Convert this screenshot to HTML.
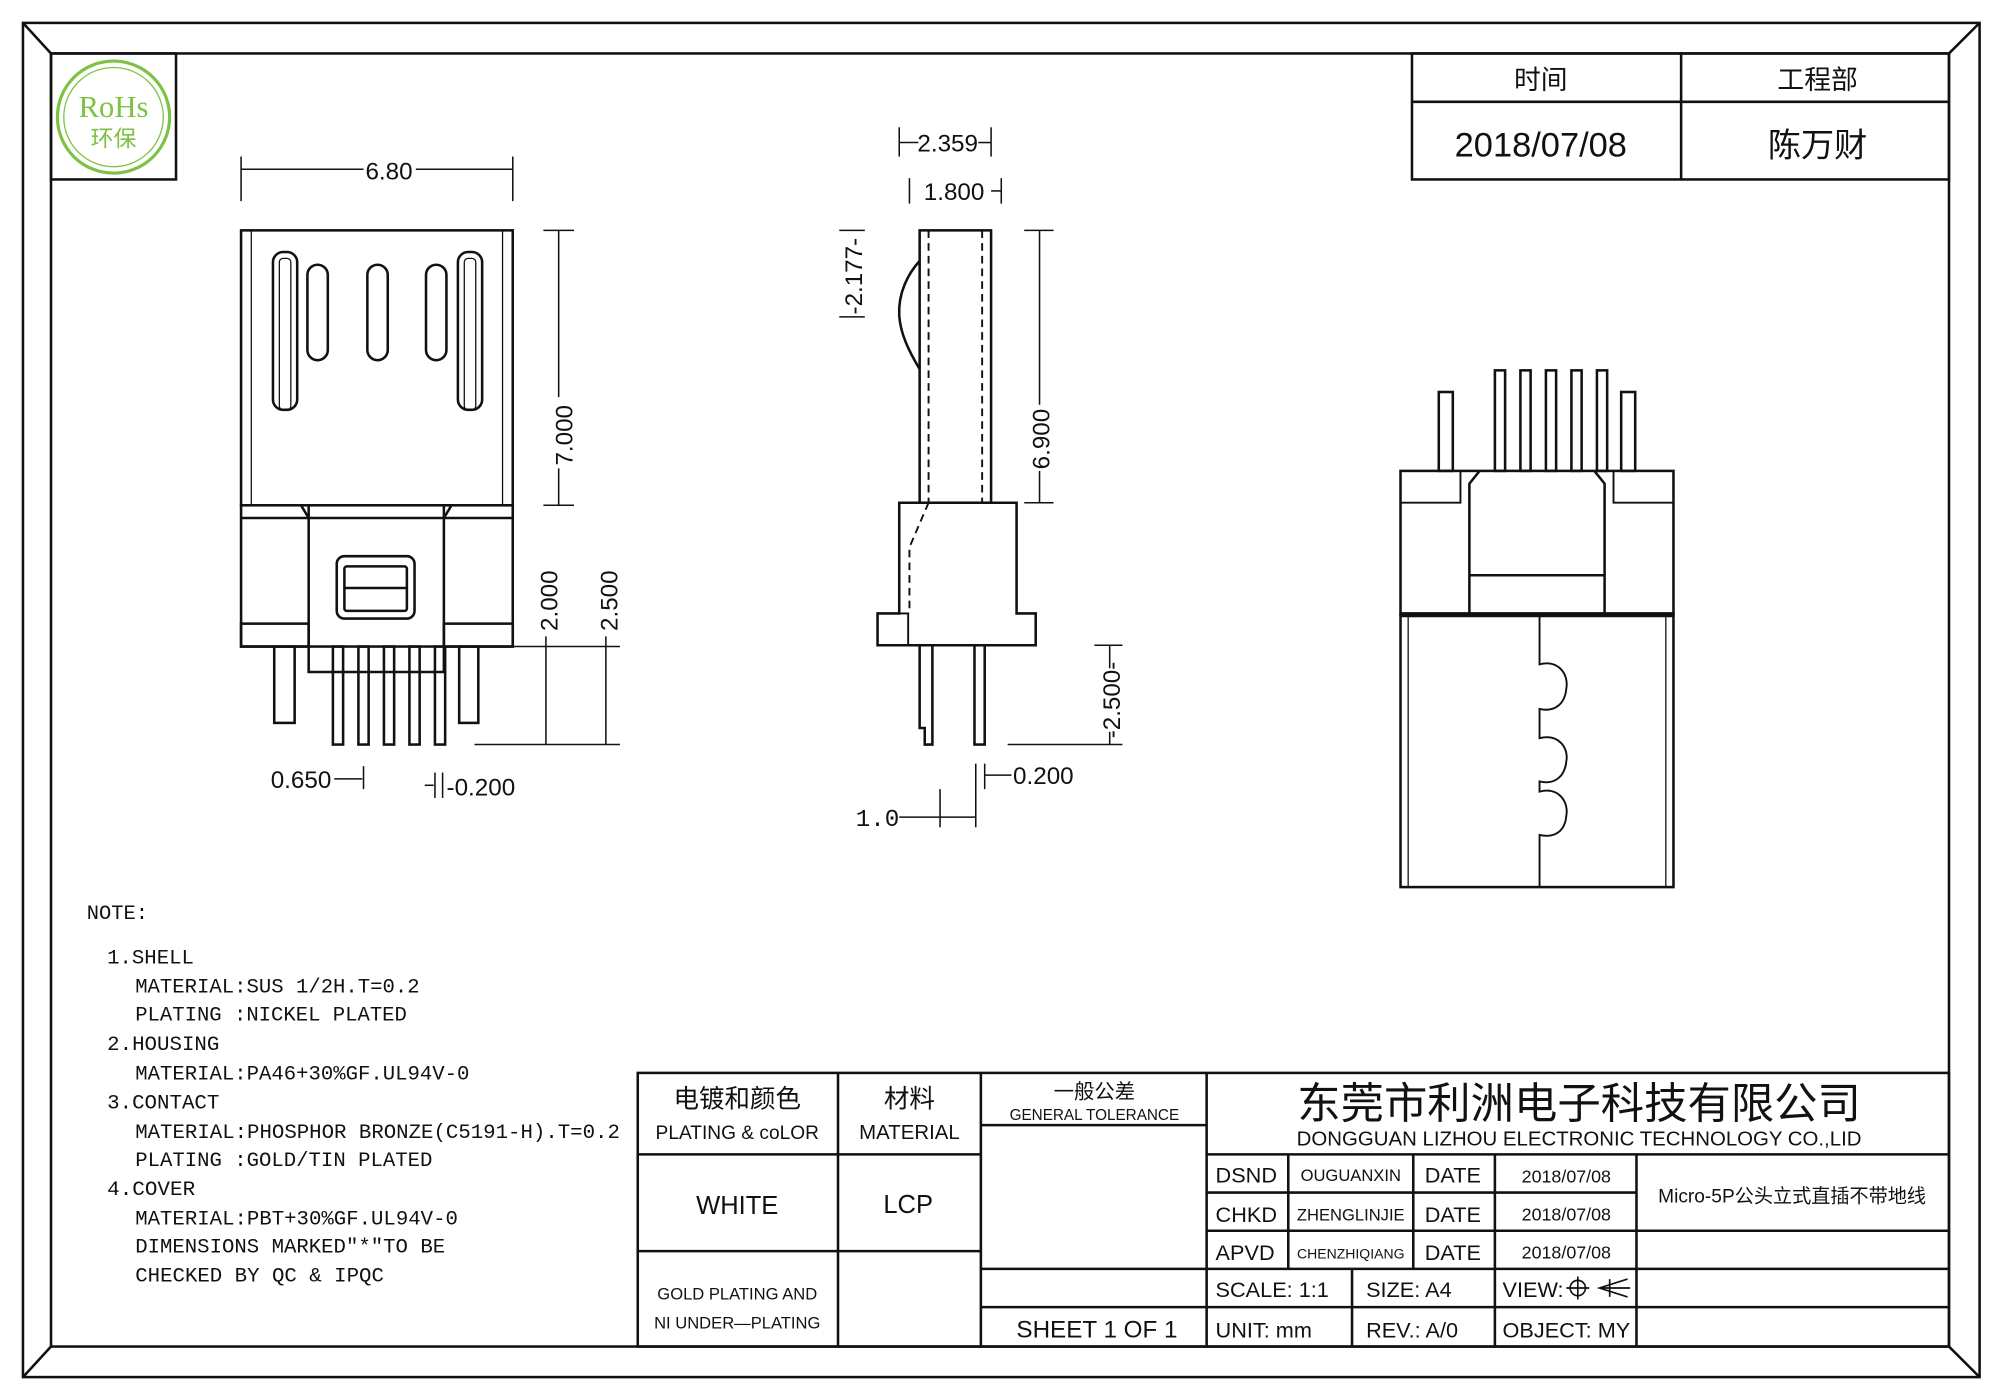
<!DOCTYPE html>
<html><head><meta charset="utf-8"><style>
html,body{margin:0;padding:0;background:#fff;}
svg{display:block;}
text{font-family:"Liberation Sans","Noto Sans CJK SC",sans-serif;fill:#111;}
.m{font-family:"Liberation Mono","Noto Serif CJK SC",monospace;font-size:16px;}
</style></head><body>
<svg width="2000" height="1400" viewBox="0 0 1568 1100" preserveAspectRatio="none" xmlns="http://www.w3.org/2000/svg">
<g fill="none" stroke="#111" stroke-width="2">
<rect x="18" y="18" width="1534" height="1064"/>
<rect x="40" y="42" width="1488" height="1016"/>
<line x1="18" y1="18" x2="40" y2="42"/><line x1="1552" y1="18" x2="1528" y2="42"/>
<line x1="18" y1="1082" x2="40" y2="1058"/><line x1="1552" y1="1082" x2="1528" y2="1058"/>
<rect x="40" y="42" width="98" height="99"/>
<rect x="1107" y="42" width="421" height="99"/>
<line x1="1107" y1="80" x2="1528" y2="80"/><line x1="1318" y1="42" x2="1318" y2="141"/>
<rect x="500" y="843" width="1028" height="215"/>
<line x1="657" y1="843" x2="657" y2="1058"/>
<line x1="769" y1="843" x2="769" y2="1058"/>
<line x1="946" y1="843" x2="946" y2="1058"/>
<line x1="500" y1="907" x2="769" y2="907"/>
<line x1="500" y1="983" x2="769" y2="983"/>
<line x1="769" y1="884" x2="946" y2="884"/>
<line x1="769" y1="997" x2="1528" y2="997"/>
<line x1="769" y1="1027" x2="1528" y2="1027"/>
<line x1="946" y1="907" x2="1528" y2="907"/>
<line x1="946" y1="937" x2="1283" y2="937"/>
<line x1="946" y1="967" x2="1528" y2="967"/>
<line x1="1010" y1="907" x2="1010" y2="997"/>
<line x1="1108" y1="907" x2="1108" y2="997"/>
<line x1="1172" y1="907" x2="1172" y2="1058"/>
<line x1="1283" y1="907" x2="1283" y2="1058"/>
<line x1="1060" y1="997" x2="1060" y2="1058"/>
</g>
<circle cx="89" cy="92" r="44" fill="none" stroke="#7dc242" stroke-width="2.5"/>
<circle cx="89" cy="92" r="39" fill="none" stroke="#7dc242" stroke-width="1"/>
<text x="89" y="92" text-anchor="middle" font-size="24" style="fill:#7dc242;font-family:'Liberation Serif',serif">RoHs</text>
<text x="89" y="115" text-anchor="middle" font-size="18" style="fill:#7dc242">环保</text>

<text x="1208" y="70" text-anchor="middle" font-size="21">时间</text>
<text x="1425" y="70" text-anchor="middle" font-size="21">工程部</text>
<text x="1208" y="123" text-anchor="middle" font-size="27">2018/07/08</text>
<text x="1425" y="123" text-anchor="middle" font-size="26">陈万财</text>

<text x="578" y="870" text-anchor="middle" font-size="20">电镀和颜色</text>
<text x="578" y="895" text-anchor="middle" font-size="15">PLATING &amp; coLOR</text>
<text x="713" y="870" text-anchor="middle" font-size="20">材料</text>
<text x="713" y="895" text-anchor="middle" font-size="16">MATERIAL</text>
<text x="858" y="863" text-anchor="middle" font-size="16">一般公差</text>
<text x="858" y="880" text-anchor="middle" font-size="12">GENERAL TOLERANCE</text>
<text x="578" y="954" text-anchor="middle" font-size="20">WHITE</text>
<text x="712" y="953" text-anchor="middle" font-size="20">LCP</text>
<text x="578" y="1021" text-anchor="middle" font-size="13">GOLD PLATING AND</text>
<text x="578" y="1044" text-anchor="middle" font-size="13">NI UNDER—PLATING</text>
<text x="860" y="1051" text-anchor="middle" font-size="19">SHEET 1 OF 1</text>
<text x="1238" y="879" text-anchor="middle" font-size="34">东莞市利洲电子科技有限公司</text>
<text x="1238" y="900" text-anchor="middle" font-size="16">DONGGUAN LIZHOU ELECTRONIC TECHNOLOGY CO.,LID</text>
<g font-size="17">
<text x="953" y="929">DSND</text><text x="953" y="960">CHKD</text><text x="953" y="990">APVD</text>
<text x="1117" y="929">DATE</text><text x="1117" y="960">DATE</text><text x="1117" y="990">DATE</text>
<text x="953" y="1019">SCALE:  1:1</text><text x="1071" y="1019">SIZE:  A4</text><text x="1178" y="1019">VIEW:</text>
<text x="953" y="1051">UNIT:  mm</text><text x="1071" y="1051">REV.:  A/0</text><text x="1178" y="1051">OBJECT:  MY</text>
</g>
<text x="1059" y="928" text-anchor="middle" font-size="13">OUGUANXIN</text>
<text x="1059" y="959" text-anchor="middle" font-size="13">ZHENGLINJIE</text>
<text x="1059" y="989" text-anchor="middle" font-size="11">CHENZHIQIANG</text>
<g font-size="14"><text x="1228" y="929" text-anchor="middle">2018/07/08</text><text x="1228" y="959" text-anchor="middle">2018/07/08</text><text x="1228" y="989" text-anchor="middle">2018/07/08</text></g>
<text x="1405" y="945" text-anchor="middle" font-size="15">Micro-5P公头立式直插不带地线</text>
<g fill="none" stroke="#111" stroke-width="1.3">
<circle cx="1237" cy="1012" r="6"/><line x1="1228" y1="1012" x2="1246" y2="1012"/><line x1="1237" y1="1003" x2="1237" y2="1021"/>
<path d="M1276 1005 L1254 1012 L1276 1019 M1262 1005 L1262 1019 M1254 1012 L1278 1012"/>
</g>

<g>
<text x="68" y="722" class="m" textLength="48" lengthAdjust="spacingAndGlyphs">NOTE:</text>
<text x="84" y="757" class="m" textLength="68" lengthAdjust="spacingAndGlyphs">1.SHELL</text>
<text x="106" y="780" class="m" textLength="223" lengthAdjust="spacingAndGlyphs">MATERIAL:SUS 1/2H.T=0.2</text>
<text x="106" y="802" class="m" textLength="213" lengthAdjust="spacingAndGlyphs">PLATING :NICKEL PLATED</text>
<text x="84" y="825" class="m" textLength="88" lengthAdjust="spacingAndGlyphs">2.HOUSING</text>
<text x="106" y="848" class="m" textLength="262" lengthAdjust="spacingAndGlyphs">MATERIAL:PA46+30%GF.UL94V-0</text>
<text x="84" y="871" class="m" textLength="88" lengthAdjust="spacingAndGlyphs">3.CONTACT</text>
<text x="106" y="894" class="m" textLength="380" lengthAdjust="spacingAndGlyphs">MATERIAL:PHOSPHOR BRONZE(C5191-H).T=0.2</text>
<text x="106" y="916" class="m" textLength="233" lengthAdjust="spacingAndGlyphs">PLATING :GOLD/TIN PLATED</text>
<text x="84" y="939" class="m" textLength="69" lengthAdjust="spacingAndGlyphs">4.COVER</text>
<text x="106" y="962" class="m" textLength="253" lengthAdjust="spacingAndGlyphs">MATERIAL:PBT+30%GF.UL94V-0</text>
<text x="106" y="984" class="m" textLength="243" lengthAdjust="spacingAndGlyphs">DIMENSIONS MARKED"*"TO BE</text>
<text x="106" y="1007" class="m" textLength="195" lengthAdjust="spacingAndGlyphs">CHECKED BY QC &amp; IPQC</text>
</g>

<g fill="none" stroke="#111" stroke-width="2">
<rect x="189" y="181" width="213" height="216"/>
<line x1="197" y1="181" x2="197" y2="397" stroke-width="1"/><line x1="394" y1="181" x2="394" y2="397" stroke-width="1"/>
<rect x="214" y="198" width="19" height="124" rx="8"/><rect x="219" y="203" width="9" height="119" rx="3" stroke-width="1"/>
<rect x="241" y="208" width="16" height="75" rx="8"/>
<rect x="288" y="208" width="16" height="75" rx="8"/>
<rect x="334" y="208" width="16" height="75" rx="8"/>
<rect x="359" y="198" width="19" height="124" rx="8"/><rect x="364" y="203" width="9" height="119" rx="3" stroke-width="1"/>
<rect x="189" y="397" width="213" height="111"/>
<line x1="189" y1="407" x2="402" y2="407"/>
<path d="M242 397 L242 528 L348 528 L348 397"/>
<path d="M236 397 L242 407 M354 397 L348 407"/>
<rect x="189" y="490" width="53" height="18"/><rect x="348" y="490" width="54" height="18"/>
<rect x="264" y="437" width="61" height="49" rx="6"/>
<rect x="270" y="445" width="49" height="35" rx="2"/>
<line x1="270" y1="462" x2="319" y2="462"/>
<rect x="215" y="508" width="16" height="60"/><rect x="360" y="508" width="15" height="60"/>
<rect x="261" y="508" width="8" height="77"/><rect x="281" y="508" width="8" height="77"/><rect x="301" y="508" width="8" height="77"/><rect x="321" y="508" width="8" height="77"/><rect x="341" y="508" width="8" height="77"/>
</g>
<g fill="none" stroke="#111" stroke-width="1.2">
<line x1="189" y1="123" x2="189" y2="158"/><line x1="402" y1="123" x2="402" y2="158"/>
<line x1="189" y1="133" x2="285" y2="133"/><line x1="326" y1="133" x2="402" y2="133"/>
<line x1="426" y1="181" x2="450" y2="181"/><line x1="426" y1="397" x2="450" y2="397"/>
<line x1="438" y1="181" x2="438" y2="312"/><line x1="438" y1="368" x2="438" y2="397"/>
<line x1="402" y1="508" x2="486" y2="508"/><line x1="372" y1="585" x2="486" y2="585"/>
<line x1="428" y1="500" x2="428" y2="585"/><line x1="475" y1="500" x2="475" y2="585"/>
<line x1="262" y1="612" x2="284" y2="612"/><line x1="285" y1="602" x2="285" y2="620"/>
<line x1="333" y1="617" x2="340" y2="617"/><line x1="341" y1="607" x2="341" y2="627"/><line x1="347" y1="607" x2="347" y2="627"/>
</g>
<g font-size="19">
<text x="305" y="141" text-anchor="middle">6.80</text>
<text transform="translate(449,342) rotate(-90)" text-anchor="middle">7.000</text>
<text transform="translate(437,472) rotate(-90)" text-anchor="middle">2.000</text>
<text transform="translate(484,472) rotate(-90)" text-anchor="middle">2.500</text>
<text x="236" y="619" text-anchor="middle">0.650</text>
<text x="377" y="625" text-anchor="middle">-0.200</text>
</g>

<g fill="none" stroke="#111" stroke-width="2">
<rect x="721" y="181" width="56" height="214"/>
<line x1="728" y1="181" x2="728" y2="395" stroke-dasharray="6,4" stroke-width="1.5"/>
<line x1="770" y1="181" x2="770" y2="395" stroke-dasharray="6,4" stroke-width="1.5"/>
<path d="M721 205 C712 215 704 230 705 248 C706 262 712 275 721 290"/>
<path d="M705 395 L797 395 L797 482 L812 482 L812 507 L688 507 L688 482 L705 482 Z"/>
<path d="M728 395 L713 430 L713 482" stroke-dasharray="6,4" stroke-width="1.5"/>
<rect x="688" y="482" width="24" height="25" stroke-width="1.5"/>
<path d="M721 507 L721 572 L725 572 L725 585 L731 585 L731 507"/>
<rect x="764" y="507" width="8" height="78"/>
</g>
<g fill="none" stroke="#111" stroke-width="1.2">
<line x1="705" y1="100" x2="705" y2="123"/><line x1="777" y1="100" x2="777" y2="123"/>
<line x1="705" y1="112" x2="720" y2="112"/><line x1="767" y1="112" x2="777" y2="112"/>
<line x1="713" y1="140" x2="713" y2="160"/><line x1="785" y1="140" x2="785" y2="160"/>
<line x1="777" y1="150" x2="785" y2="150"/>
<line x1="658" y1="181" x2="678" y2="181"/><line x1="658" y1="249" x2="678" y2="249"/>
<line x1="803" y1="181" x2="826" y2="181"/><line x1="803" y1="395" x2="826" y2="395"/>
<line x1="815" y1="181" x2="815" y2="318"/><line x1="815" y1="370" x2="815" y2="395"/>
<line x1="858" y1="507" x2="880" y2="507"/><line x1="790" y1="585" x2="880" y2="585"/>
<line x1="870" y1="507" x2="870" y2="525"/><line x1="870" y1="575" x2="870" y2="585"/>
<line x1="765" y1="600" x2="765" y2="650"/><line x1="772" y1="600" x2="772" y2="620"/><line x1="772" y1="609" x2="793" y2="609"/>
<line x1="737" y1="620" x2="737" y2="650"/><line x1="705" y1="642" x2="765" y2="642"/>
</g>
<g font-size="19">
<text x="743" y="119" text-anchor="middle">2.359</text>
<text x="748" y="157" text-anchor="middle">1.800</text>
<text transform="translate(676,217) rotate(-90)" text-anchor="middle">-2.177-</text>
<text transform="translate(823,345) rotate(-90)" text-anchor="middle">6.900</text>
<text transform="translate(878,550) rotate(-90)" text-anchor="middle">-2.500-</text>
<text x="818" y="616" text-anchor="middle">0.200</text>
<text x="688" y="649" text-anchor="middle" class="m" style="font-size:19px">1.0</text>
</g>

<g fill="none" stroke="#111" stroke-width="2">
<rect x="1128" y="308" width="11" height="62"/><rect x="1271" y="308" width="11" height="62"/>
<rect x="1172" y="291" width="8" height="79"/><rect x="1192" y="291" width="8" height="79"/><rect x="1212" y="291" width="8" height="79"/><rect x="1232" y="291" width="8" height="79"/><rect x="1252" y="291" width="8" height="79"/>
<rect x="1098" y="370" width="214" height="113"/>
<path d="M1152 483 L1152 380 L1160 370 M1258 483 L1258 380 L1250 370"/>
<path d="M1098 395 L1145 395 L1145 370 M1312 395 L1265 395 L1265 370" stroke-width="1.5"/>
<line x1="1152" y1="452" x2="1258" y2="452"/>
<line x1="1098" y1="483" x2="1312" y2="483" stroke-width="4"/>
<rect x="1098" y="483" width="214" height="214"/>
<line x1="1104" y1="483" x2="1104" y2="697" stroke-width="1"/><line x1="1306" y1="483" x2="1306" y2="697" stroke-width="1"/>
<path d="M1207 483 L1207 522 C1222 518 1230 530 1228 541 C1227 552 1220 560 1207 557 L1207 580 C1222 576 1230 588 1228 598 C1227 609 1220 617 1207 614 L1207 622 C1222 618 1230 630 1228 641 C1227 652 1220 659 1207 656 L1207 697" stroke-width="1.5"/>
</g>
</svg>
</body></html>
